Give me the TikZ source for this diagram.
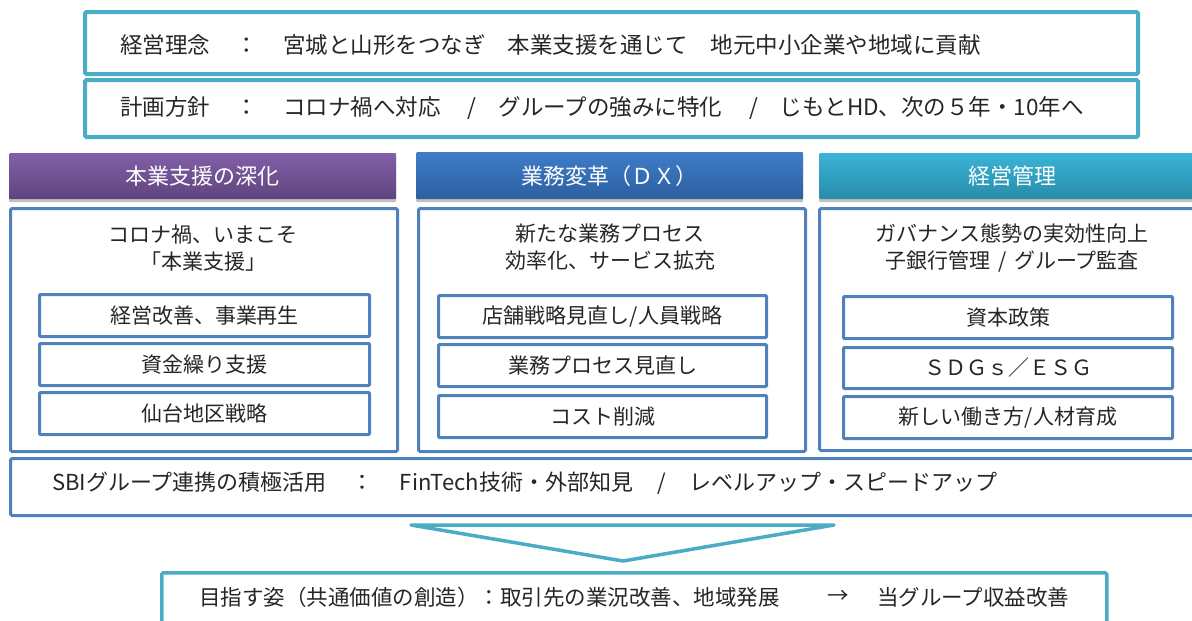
\documentclass[tikz,border=0pt]{standalone}
\usepackage{fontspec}
\setmainfont{Noto Sans CJK JP}
\usetikzlibrary{shadows}
\definecolor{tealline}{RGB}{75,172,198}
\definecolor{blueline}{RGB}{79,129,189}
\definecolor{txt}{RGB}{38,38,38}
\definecolor{purT}{RGB}{130,95,168}
\definecolor{purB}{RGB}{95,68,125}
\definecolor{bluT}{RGB}{62,125,200}
\definecolor{bluB}{RGB}{45,95,160}
\definecolor{tealT}{RGB}{58,180,215}
\definecolor{tealB}{RGB}{40,140,168}
\begin{document}
\begin{tikzpicture}[x=1pt,y=-1pt,
  topbox/.style={draw=tealline,line width=4pt,rounded corners=1.5pt,fill=white,anchor=north west,inner sep=0pt},
  bodybox/.style={draw=blueline,line width=3pt,rounded corners=1.5pt,fill=white,anchor=north west,inner sep=0pt},
  subbox/.style={draw=blueline,line width=3pt,rounded corners=1pt,fill=white,anchor=north west,inner sep=0pt},
  hdr/.style={anchor=north west,inner sep=0pt,rounded corners=1pt,
    drop shadow={shadow xshift=0pt,shadow yshift=-3pt,opacity=0.35,fill=black!70}},
  tx/.style={inner sep=0pt,text=txt,font=\fontsize{22.5}{26}\selectfont},
  txs/.style={inner sep=0pt,text=txt,font=\fontsize{21}{27}\selectfont,align=center},
  htx/.style={inner sep=0pt,text=white,font=\fontsize{22}{26}\selectfont}
]
\useasboundingbox (0,0) rectangle (1192,621);
\clip (0,0) rectangle (1192,621);
\fill[white] (0,0) rectangle (1192,621);

% top boxes
\node[topbox,minimum width=1053pt,minimum height=62pt] (philo) at (83,10) {};
\node[tx,anchor=west] (philot) at (120,45) {経営理念\hspace{25pt}：\hspace{25.5pt}宮城と山形をつなぎ\hspace{22pt}本業支援を通じて\hspace{23pt}地元中小企業や地域に貢献};
\node[topbox,minimum width=1053pt,minimum height=57pt] (plan) at (83,78) {};
\node[tx,anchor=west] (plant) at (120,108) {計画方針\hspace{25pt}：\hspace{25.5pt}コロナ禍へ対応\hspace{27pt}/\hspace{22pt}グループの強みに特化\hspace{27pt}/\hspace{22pt}じもとHD、次の５年・10年へ};

% headers
\node[hdr,top color=purT,bottom color=purB,minimum width=387pt,minimum height=46pt] (h1) at (9,153) {};
\node[htx] (h1t) at (h1.center) {本業支援の深化};
\node[hdr,top color=bluT,bottom color=bluB,minimum width=387pt,minimum height=47pt] (h2) at (416,152) {};
\node[htx] (h2t) at (h2.center) {業務変革（ＤＸ）};
\node[hdr,top color=tealT,bottom color=tealB,minimum width=387pt,minimum height=46pt] (h3) at (819,153) {};
\node[htx] (h3t) at (h3.center) {経営管理};

% bodies
\node[bodybox,minimum width=387pt,minimum height=243pt] (b1) at (9,207) {};
\node[txs] (b1t) at (203,248) {コロナ禍、いまこそ\\「本業支援」};
\node[subbox,minimum width=330pt,minimum height=42pt] (s11) at (38,293) {};
\node[txs] at (s11.center) (s11t) {経営改善、事業再生};
\node[subbox,minimum width=330pt,minimum height=42pt] (s12) at (38,342) {};
\node[txs] at (s12.center) (s12t) {資金繰り支援};
\node[subbox,minimum width=330pt,minimum height=42pt] (s13) at (38,391) {};
\node[txs] at (s13.center) (s13t) {仙台地区戦略};

\node[bodybox,minimum width=387pt,minimum height=243pt] (b2) at (417,207) {};
\node[txs] (b2t) at (610,247) {新たな業務プロセス\\効率化、サービス拡充};
\node[subbox,minimum width=328pt,minimum height=42pt] (s21) at (437,294) {};
\node[txs] at (s21.center) (s21t) {店舗戦略見直し/人員戦略};
\node[subbox,minimum width=328pt,minimum height=42pt] (s22) at (437,343) {};
\node[txs] at (s22.center) (s22t) {業務プロセス見直し};
\node[subbox,minimum width=328pt,minimum height=42pt] (s23) at (437,394) {};
\node[txs] at (s23.center) (s23t) {コスト削減};

\node[bodybox,minimum width=388pt,minimum height=242pt] (b3) at (818,207) {};
\node[txs] (b3t) at (1012,248) {ガバナンス態勢の実効性向上\\子銀行管理\hspace{8pt}/\hspace{8pt}グループ監査};
\node[subbox,minimum width=329pt,minimum height=42pt] (s31) at (842,295) {};
\node[txs] at (s31.center) (s31t) {資本政策};
\node[subbox,minimum width=329pt,minimum height=41pt] (s32) at (842,346) {};
\node[txs] at (s32.center) (s32t) {ＳＤＧｓ／ＥＳＧ};
\node[subbox,minimum width=329pt,minimum height=42pt] (s33) at (842,395) {};
\node[txs] at (s33.center) (s33t) {新しい働き方/人材育成};

% SBI band
\node[bodybox,minimum width=1197pt,minimum height=57pt] (sbi) at (9,457) {};
\node[tx,anchor=west,font=\fontsize{22}{26}\selectfont] (sbit) at (52,483) {SBIグループ連携の積極活用\hspace{25pt}：\hspace{26pt}FinTech技術・外部知見\hspace{24pt}/\hspace{24pt}レベルアップ・スピードアップ};

% bottom box
\node[topbox,line width=3.5pt,minimum width=945pt,minimum height=70pt] (goal) at (160,571) {};
\node[tx,anchor=west,font=\fontsize{21.5}{26}\selectfont] (goalt1) at (199,597) {目指す姿（共通価値の創造）：取引先の業況改善、地域発展};
\node[tx,font=\fontsize{21.5}{26}\selectfont] (goalarrow) at (838,597) {→};
\node[tx,anchor=west,font=\fontsize{21.5}{26}\selectfont] (goalt2) at (877,597) {当グループ収益改善};

% down triangle
\coordinate (trA) at (411,525);
\coordinate (trB) at (834,525);
\coordinate (trC) at (623,561);
\draw[tealline,line width=3.5pt,line join=round,fill=white] (trA) -- (trB) -- (trC) -- cycle;
\end{tikzpicture}
\end{document}
